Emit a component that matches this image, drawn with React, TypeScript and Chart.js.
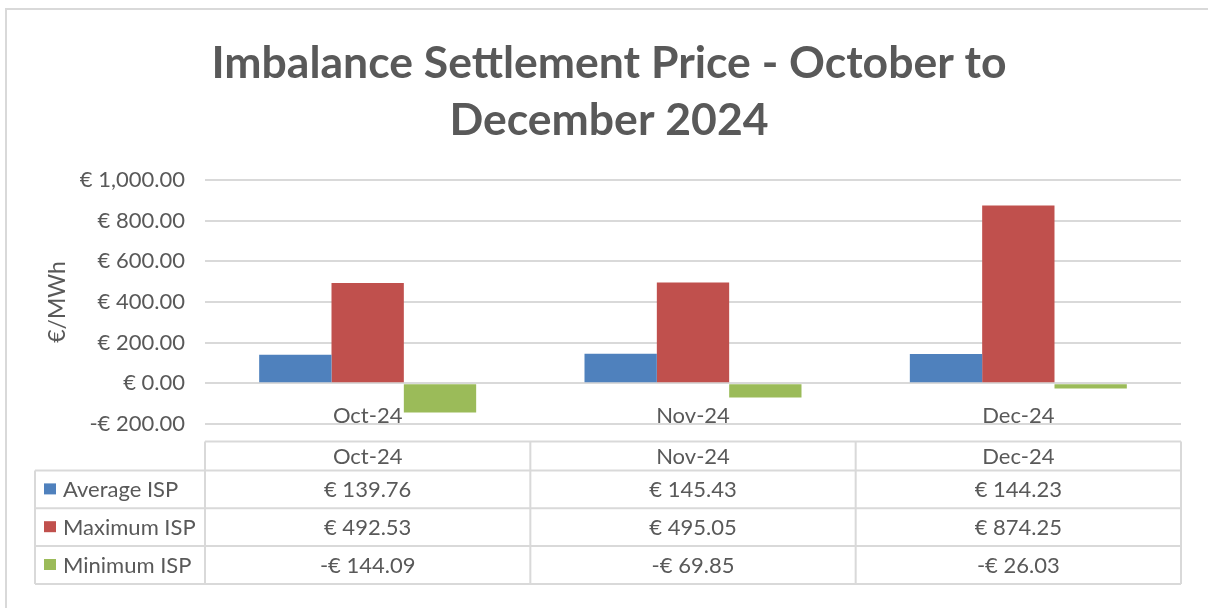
import React, { useEffect, useRef } from "react";
import { Chart, registerables } from "chart.js";

Chart.register(...registerables);

const categories = ["Oct-24", "Nov-24", "Dec-24"];
const averageIsp = [139.76, 145.43, 144.23];
const maximumIsp = [492.53, 495.05, 874.25];
const minimumIsp = [-144.09, -69.85, -26.03];
const seriesNames = ["Average ISP", "Maximum ISP", "Minimum ISP"];
const seriesColors = ["#4F81BD", "#C0504D", "#9BBB59"];
const yMin = -200;
const yMax = 1000;
const yStep = 200;
const titleLines = ["Imbalance Settlement Price - October to", "December 2024"];
const yAxisTitle = "€/MWh";

const FONT = "Lato";
const TEXT = "#595959";
const GRID = "#D9D9D9";

function euro(v: number): string {
  const s = Math.abs(v).toLocaleString("en-US", {
    minimumFractionDigits: 2,
    maximumFractionDigits: 2,
  });
  return (v < 0 ? "-€ " : "€ ") + s;
}

const framePlugin = {
  id: "frame",
  beforeDraw(chart: any) {
    const { ctx, width, height } = chart;
    ctx.save();
    ctx.fillStyle = "#ffffff";
    ctx.fillRect(0, 0, width, height);
    ctx.strokeStyle = GRID;
    ctx.lineWidth = 2;
    ctx.strokeRect(6, 9, width + 20, height + 20);
    ctx.restore();
  },
};

const tablePlugin = {
  id: "dataTable",
  afterDraw(chart: any) {
    const { ctx, chartArea } = chart;
    const x = chart.scales.x;
    const step = x.getPixelForValue(1) - x.getPixelForValue(0);
    const edges = [chartArea.left];
    categories.forEach((_, i) => {
      edges.push(i === categories.length - 1 ? chartArea.right : x.getPixelForValue(i) + step / 2);
    });
    const right = chartArea.right;
    const headerTop = chartArea.bottom + 17.5;
    const headerH = 29;
    const rowH = 37.8;
    const labelLeft = 35;
    const rowsTop = headerTop + headerH;
    const bottom = rowsTop + rowH * seriesNames.length;
    const values = [averageIsp, maximumIsp, minimumIsp];

    ctx.save();
    ctx.strokeStyle = GRID;
    ctx.lineWidth = 2;
    ctx.beginPath();
    ctx.moveTo(edges[0], headerTop);
    ctx.lineTo(right, headerTop);
    for (let k = 0; k <= seriesNames.length; k++) {
      const yy = rowsTop + k * rowH;
      ctx.moveTo(labelLeft, yy);
      ctx.lineTo(right, yy);
    }
    ctx.moveTo(labelLeft, rowsTop);
    ctx.lineTo(labelLeft, bottom);
    edges.forEach((e) => {
      ctx.moveTo(e, headerTop);
      ctx.lineTo(e, bottom);
    });
    ctx.stroke();

    ctx.fillStyle = TEXT;
    ctx.font = `22px ${FONT}`;
    ctx.textAlign = "center";
    ctx.textBaseline = "middle";
    categories.forEach((c, i) => {
      ctx.fillText(c, (edges[i] + edges[i + 1]) / 2, headerTop + headerH / 2 + 1);
    });
    seriesNames.forEach((name, r) => {
      const cy = rowsTop + r * rowH + rowH / 2;
      ctx.fillStyle = seriesColors[r];
      ctx.fillRect(44, cy - 6, 12, 11);
      ctx.fillStyle = TEXT;
      ctx.textAlign = "left";
      ctx.fillText(name, 63, cy + 1);
      ctx.textAlign = "center";
      values[r].forEach((v, i) => {
        ctx.fillText(euro(v), (edges[i] + edges[i + 1]) / 2, cy + 1);
      });
    });
    ctx.restore();
  },
};

export default function App() {
  const ref = useRef<HTMLCanvasElement | null>(null);
  useEffect(() => {
    if (!ref.current) return;
    const padLeft = 37;
    const chart = new Chart(ref.current, {
      type: "bar",
      data: {
        labels: categories,
        datasets: [
          { label: seriesNames[0], data: averageIsp, backgroundColor: seriesColors[0] },
          { label: seriesNames[1], data: maximumIsp, backgroundColor: seriesColors[1] },
          { label: seriesNames[2], data: minimumIsp, backgroundColor: seriesColors[2] },
        ],
      },
      options: {
        animation: false,
        responsive: false,
        devicePixelRatio: 1,
        layout: { padding: { left: padLeft, right: 27, top: 0, bottom: 184 } },
        datasets: {
          bar: { categoryPercentage: 0.667, barPercentage: 1, borderWidth: 0 },
        },
        plugins: {
          legend: { display: false },
          tooltip: { enabled: false },
          title: {
            display: true,
            text: titleLines,
            color: TEXT,
            font: { family: FONT, size: 44.5, weight: "bold", lineHeight: 1.29 },
            padding: { top: 35, bottom: 30 },
          },
        },
        scales: {
          x: {
            type: "category",
            position: { y: 0 } as any,
            grid: { display: false, drawTicks: false },
            border: { display: false },
            ticks: {
              color: TEXT,
              font: { family: FONT, size: 22 },
              padding: 19,
              maxRotation: 0,
              autoSkip: false,
            },
            afterFit: (s: any) => {
              s.height = 0;
            },
          },
          y: {
            min: yMin,
            max: yMax,
            grid: { color: GRID, lineWidth: 2, drawTicks: false },
            border: { display: false },
            ticks: {
              stepSize: yStep,
              color: TEXT,
              font: { family: FONT, size: 22 },
              padding: 20,
              callback: (v: any) => euro(Number(v)),
            },
            title: {
              display: true,
              text: yAxisTitle,
              color: TEXT,
              font: { family: FONT, size: 23 },
              padding: { top: 7, bottom: 0 },
            },
            afterFit: (s: any) => {
              s.width = 205 - padLeft;
            },
          },
        },
      },
      plugins: [framePlugin, tablePlugin],
    });
    return () => chart.destroy();
  }, []);
  return (
    <div style={{ position: "absolute", left: 0, top: 0, width: 1208, height: 608 }}>
      <canvas ref={ref} width={1208} height={608} style={{ width: "1208px", height: "608px" }} />
    </div>
  );
}
